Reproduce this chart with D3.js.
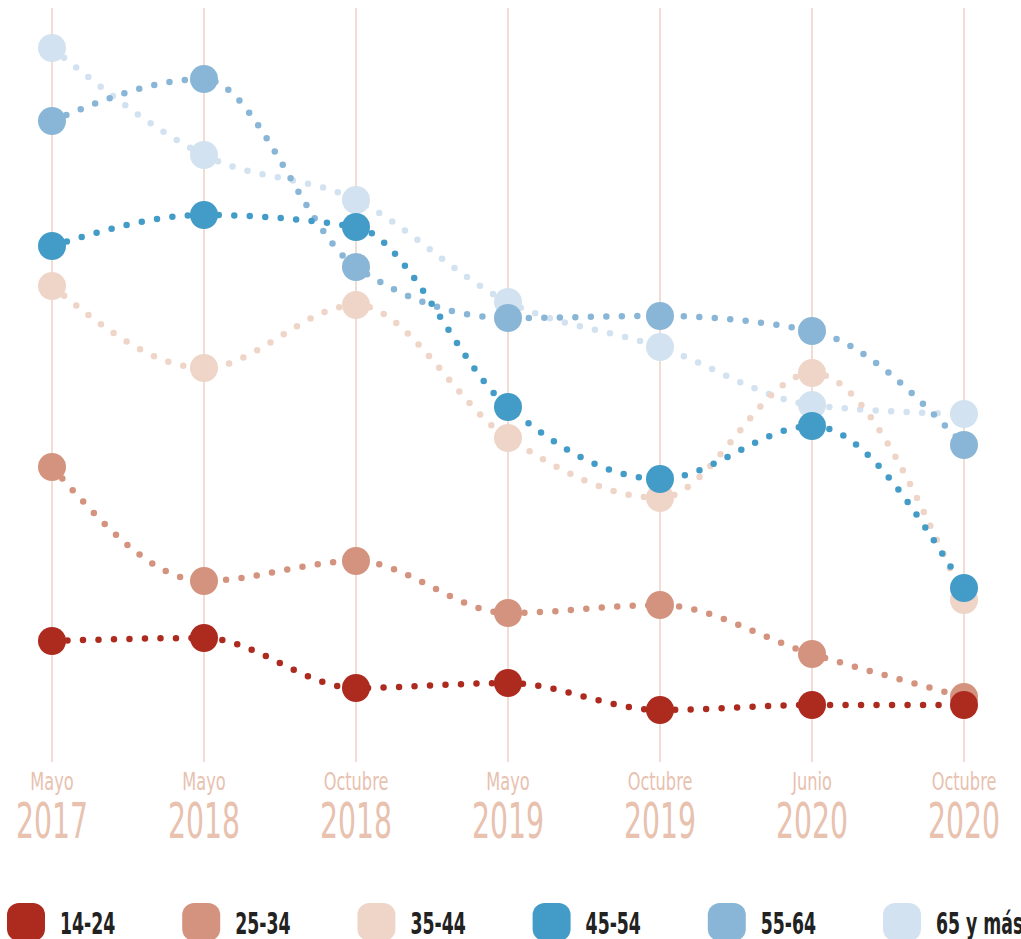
<!DOCTYPE html>
<html>
<head>
<meta charset="utf-8">
<script src="https://cdn.jsdelivr.net/npm/d3@7"></script>
<style>
  body { margin: 0; background: #fff; }
  text { font-family: "DejaVu Sans Condensed", "DejaVu Sans", sans-serif; font-stretch: condensed; }
</style>
</head>
<body>
<script>
// periodos
var months = ["Mayo", "Mayo", "Octubre", "Mayo", "Octubre", "Junio", "Octubre"];
var years = ["2017", "2018", "2018", "2019", "2019", "2020", "2020"];

// grupos de edad
var groups = ["14-24", "25-34", "35-44", "45-54", "55-64", "65 y más"];
var colors = ["#ad2a1f", "#d4937e", "#efd5c8", "#439cc7", "#89b6d7", "#d3e2f0"];

var v1424 = [10.9, 11.2, 6.2, 6.7, 4.0, 4.5, 4.5];
var v2534 = [28.3, 16.9, 18.9, 13.7, 14.5, 9.6, 5.3];
var v3544 = [46.4, 38.2, 44.5, 31.2, 25.2, 37.7, 15.0];
var v4554 = [50.4, 53.5, 52.3, 34.3, 27.1, 32.4, 16.2];
var v5564 = [62.9, 67.1, 48.3, 43.2, 43.4, 41.9, 30.5];
var v65 = [70.2, 59.5, 55.0, 44.8, 40.3, 34.5, 33.6];

var series = [v1424, v2534, v3544, v4554, v5564, v65];
// orden de dibujo (el primero queda debajo)
var drawOrder = [5, 4, 2, 3, 1, 0];

var width = 1021, height = 939;

var svg = d3.select("body").append("svg").attr("width", width).attr("height", height);

var x = d3.scalePoint().domain(d3.range(months.length)).range([52, 964]);
var y = d3.scaleLinear().domain([0, 74]).range([750, 10]);

// lineas verticales
svg.append("g").selectAll("line")
	.data(d3.range(months.length))
	.enter().append("line")
		.attr("x1", function(d){ return x(d); })
		.attr("x2", function(d){ return x(d); })
		.attr("y1", 8)
		.attr("y2", 762)
		.attr("stroke", "#f2dcd3")
		.attr("stroke-width", 2);

// etiquetas del eje
var labels = svg.append("g").selectAll("g")
	.data(d3.range(months.length))
	.enter().append("g")
		.attr("transform", function(d){ return "translate(" + x(d) + ",0)"; });

labels.append("text")
	.attr("transform", "translate(0,790) scale(0.72,1)")
	.attr("text-anchor", "middle")
	.attr("font-size", 25)
	.attr("fill", "#e8c1af")
	.text(function(d){ return months[d]; });

labels.append("text")
	.attr("transform", "translate(0,838) scale(0.63,1)")
	.attr("text-anchor", "middle")
	.attr("font-size", 50)
	.attr("fill", "#e8c1af")
	.text(function(d){ return years[d]; });

var line = d3.line()
	.x(function(d, i){ return x(i); })
	.y(function(d){ return y(d); })
	.curve(d3.curveMonotoneX);

var seriesGroups = svg.append("g").selectAll("g")
	.data(drawOrder)
	.enter().append("g");

seriesGroups.append("path")
	.attr("d", function(k){ return line(series[k]); })
	.attr("fill", "none")
	.attr("stroke", function(k){ return colors[k]; })
	.attr("stroke-width", 6.5)
	.attr("stroke-linecap", "round")
	.attr("stroke-dasharray", "0 15.5");

seriesGroups.selectAll("circle")
	.data(function(k){ return series[k].map(function(v){ return {k: k, v: v}; }); })
	.enter().append("circle")
		.attr("cx", function(d, i){ return x(i); })
		.attr("cy", function(d){ return y(d.v); })
		.attr("r", 14)
		.attr("fill", function(d){ return colors[d.k]; });

// leyenda
var lx = d3.scalePoint().domain(groups).range([7, 883]);

var legend = svg.append("g").selectAll("g")
	.data(groups)
	.enter().append("g")
		.attr("transform", function(d){ return "translate(" + lx(d) + ",903)"; });

legend.append("rect")
	.attr("width", 38)
	.attr("height", 38)
	.attr("rx", 12)
	.attr("fill", function(d, i){ return colors[i]; });

legend.append("text")
	.attr("transform", "translate(53,31) scale(0.62,1)")
	.attr("font-size", 31)
	.attr("font-weight", "bold")
	.attr("fill", "#222")
	.text(function(d){ return d; });
</script>
</body>
</html>
